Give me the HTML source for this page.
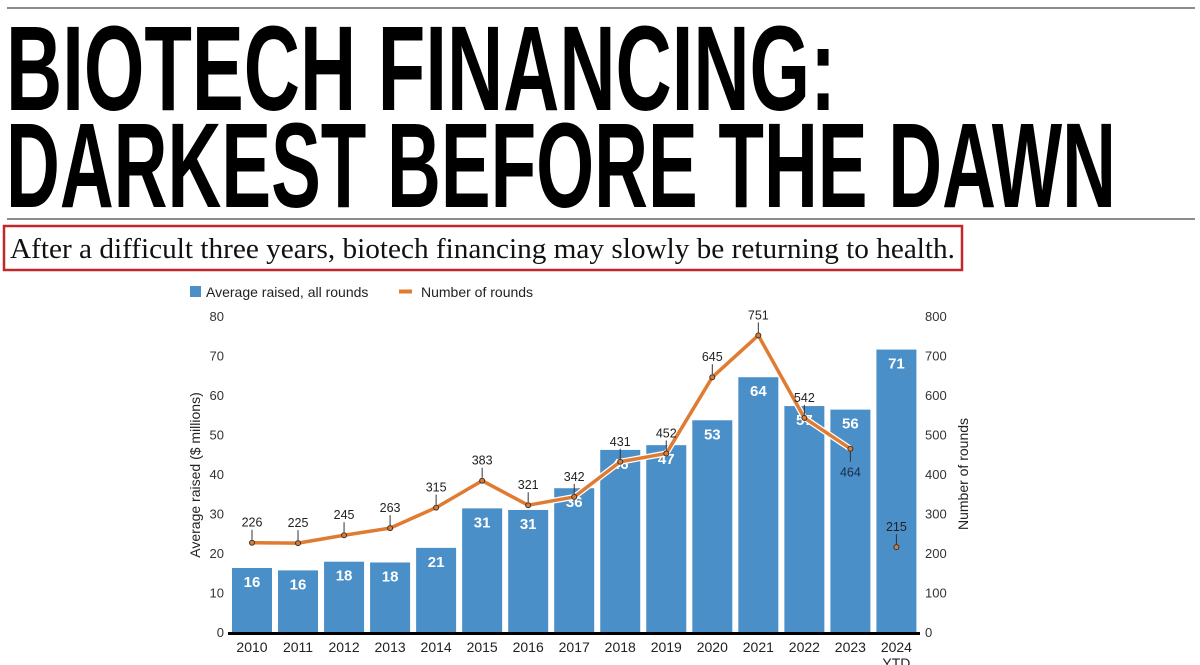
<!DOCTYPE html>
<html><head><meta charset="utf-8"><style>
html,body{margin:0;padding:0;background:#fff;width:1200px;height:665px;overflow:hidden}
svg{display:block}
</style></head><body>
<svg id="chart" width="1200" height="665" viewBox="0 0 1200 665" xmlns="http://www.w3.org/2000/svg" font-family="Liberation Sans, sans-serif">
<line x1="7" y1="8" x2="1195" y2="8" stroke="#666" stroke-width="1.5"/>
<text x="6" y="110" font-size="121" font-weight="bold" textLength="830" lengthAdjust="spacingAndGlyphs">BIOTECH FINANCING:</text>
<text x="6" y="207" font-size="121" font-weight="bold" textLength="1110" lengthAdjust="spacingAndGlyphs">DARKEST BEFORE THE DAWN</text>
<line x1="7" y1="219" x2="1195" y2="219" stroke="#666" stroke-width="1.5"/>
<rect x="4" y="226" width="958" height="44" fill="none" stroke="#c0282d" stroke-width="2.5"/>
<text x="10" y="258" font-family="Liberation Serif, serif" font-size="29" fill="#111" textLength="945" lengthAdjust="spacingAndGlyphs">After a difficult three years, biotech financing may slowly be returning to health.</text>
<g font-size="14" fill="#222">
<rect x="190" y="286" width="11" height="11" fill="#4a8fc8"/>
<text x="206" y="297">Average raised, all rounds</text>
<line x1="399" y1="291.5" x2="412" y2="291.5" stroke="#e07b32" stroke-width="4"/>
<text x="421" y="297">Number of rounds</text>
</g>
<g id="plot"></g>
</svg>
<script>
const categories=["2010","2011","2012","2013","2014","2015","2016","2017","2018","2019","2020","2021","2022","2023","2024"];
const avgRaised=[16.2,15.6,17.8,17.6,21.3,31.3,30.9,36.4,46.1,47.3,53.6,64.5,57.2,56.3,71.5];
const avgLabels=["16","16","18","18","21","31","31","36","46","47","53","64","57","56","71"];
const rounds=[226,225,245,263,315,383,321,342,431,452,645,751,542,464,215];
const leftTicks=[0,10,20,30,40,50,60,70,80];
const rightTicks=[0,100,200,300,400,500,600,700,800];

const NS="http://www.w3.org/2000/svg";
const g=document.getElementById('plot');
const y0=632, yTop=316, x0=252, pitch=46.03, bw=40;
const yL=v=>y0-(v/80)*(y0-yTop);
const yR=v=>y0-(v/800)*(y0-yTop);
const xC=i=>x0+i*pitch;
function mk(tag,attrs,txt){const e=document.createElementNS(NS,tag);for(const k in attrs)e.setAttribute(k,attrs[k]);if(txt!=null)e.textContent=txt;g.appendChild(e);return e;}

leftTicks.forEach(t=>{
  const e=mk('text',{x:224,y:yL(t)+5,'text-anchor':'end','font-size':13,fill:'#333'},t);
  
  
});
rightTicks.forEach(t=>{
  const e=mk('text',{x:925,y:yR(t)+5,'font-size':13,fill:'#333'},t);
  
  
});
let e=mk('text',{x:0,y:0,transform:'translate(200,475) rotate(-90)','text-anchor':'middle','font-size':14,fill:'#222'},'Average raised ($ millions)');


e=mk('text',{x:0,y:0,transform:'translate(968,474) rotate(-90)','text-anchor':'middle','font-size':14,fill:'#222'},'Number of rounds');



categories.forEach((c,i)=>{
  const r=mk('rect',{x:xC(i)-bw/2,y:yL(avgRaised[i]),width:bw,height:y0-yL(avgRaised[i]),fill:'#4a8fc8'});
  
  
  const t=mk('text',{x:xC(i),y:yL(avgRaised[i])+19,'text-anchor':'middle','font-size':15,'font-weight':'bold',fill:'#fff'},avgLabels[i]);
  
  
  const xl=mk('text',{x:xC(i),y:652,'text-anchor':'middle','font-size':14,fill:'#222'},c);
  
  
});
e=mk('text',{x:xC(14),y:668,'text-anchor':'middle','font-size':14,fill:'#222'},'YTD');



e=mk('line',{x1:228,y1:y0+1.5,x2:920,y2:y0+1.5,stroke:'#000','stroke-width':3});



const pts=rounds.slice(0,14).map((v,i)=>xC(i)+','+yR(v)).join(' ');
e=mk('polyline',{points:pts,fill:'none',stroke:'#fff','stroke-width':6,'stroke-linejoin':'round'});


e=mk('polyline',{points:pts,fill:'none',stroke:'#e07b32','stroke-width':3.5,'stroke-linejoin':'round'});



rounds.forEach((v,i)=>{
  const cx=xC(i), cy=yR(v), below=(i===13);
  const l=mk('line',{x1:cx,y1:below?cy+3:cy-3,x2:cx,y2:below?cy+13:cy-13,stroke:'#333','stroke-width':1});
  
  
  const p=mk('circle',{cx:cx,cy:cy,r:2.5,fill:'#e07b32',stroke:'#333','stroke-width':1});
  
  
  const t=mk('text',{x:cx,y:below?cy+28:cy-16,'text-anchor':'middle','font-size':12.5,fill:below?'#1b2a48':'#222'},v);
  
  
});
</script>
</body></html>
